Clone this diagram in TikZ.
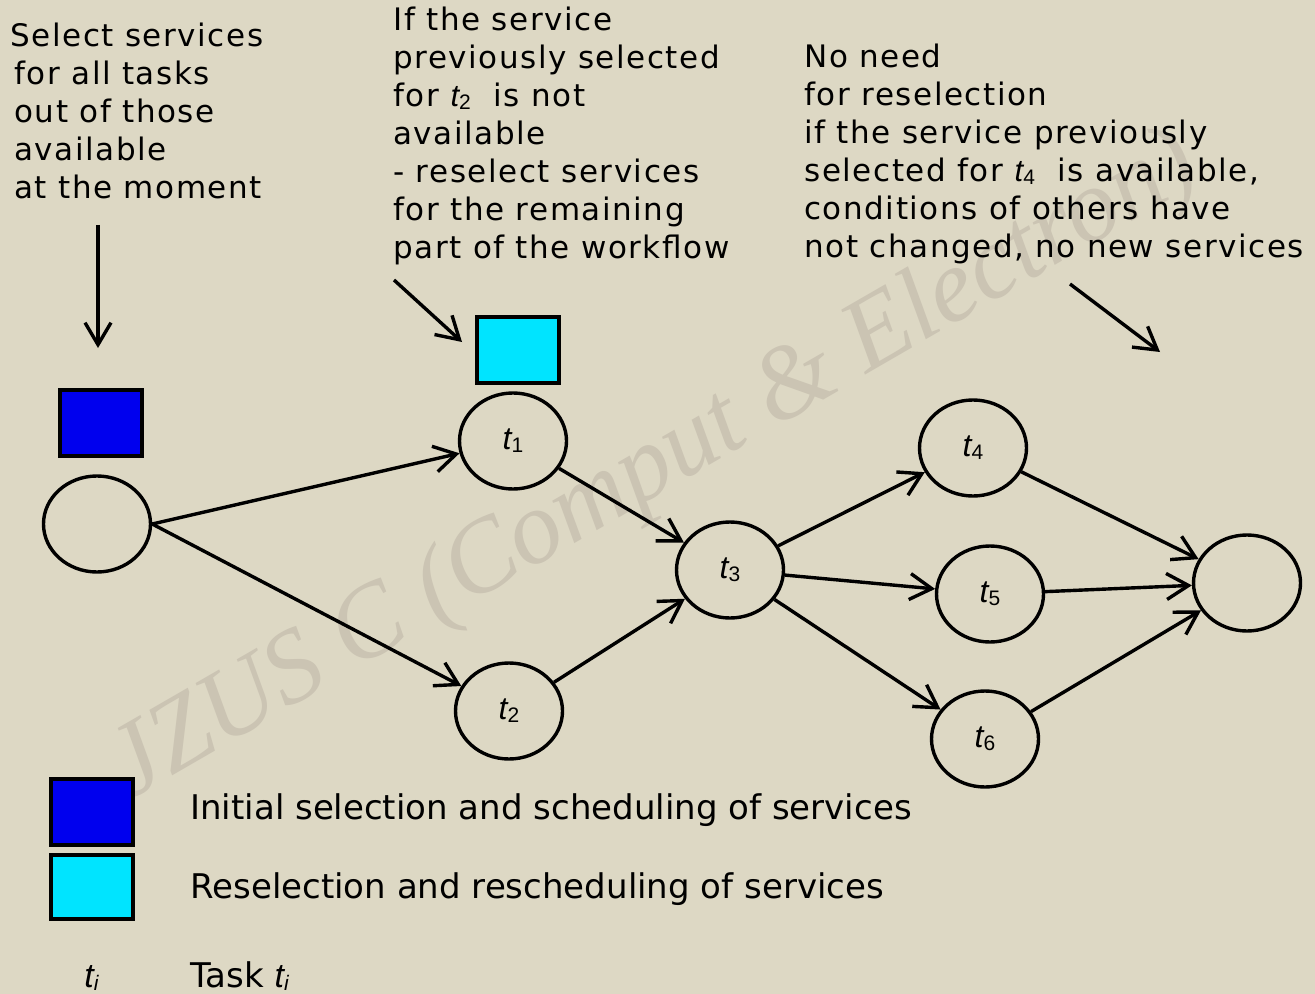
\documentclass[tikz,border=0pt]{standalone}
\usepackage{fontspec}
\setmainfont{DejaVu Sans}
\newfontfamily\notefont[LetterSpace=5]{DejaVu Sans}
\newfontfamily\taskfont{Liberation Sans}
\newfontfamily\markfont{Liberation Serif}
\usepackage{tikz}
\usetikzlibrary{positioning}
\usetikzlibrary{arrows.meta}
\usetikzlibrary{shapes.geometric}
\usepackage{xcolor}
\definecolor{paper}{RGB}{221,216,196}
\definecolor{initblue}{RGB}{0,0,238}
\definecolor{reselcyan}{RGB}{0,228,255}
\definecolor{markgray}{RGB}{203,196,179}
\newcommand{\tk}[1]{{\taskfont\itshape t}\raisebox{-1.5pt}{\taskfont\fontsize{10.5}{12}\selectfont #1}}

\begin{document}
\begin{tikzpicture}[x=0.5pt,y=-0.5pt,
	task/.style={ellipse,draw,line width=1.7pt,minimum width=53.5pt,minimum height=48pt,inner sep=0pt,font=\taskfont\fontsize{16}{18}\selectfont},
	flow/.style={-{Straight Barb[length=11pt,width=13pt]},line width=1.7pt},
	service/.style={draw,line width=1.6pt,minimum width=41pt,minimum height=33pt,inner sep=0pt},
	note/.style={anchor=north west,align=left,inner sep=0pt,font=\notefont\fontsize{15.5}{19}\selectfont},
	legend/.style={anchor=base west,inner sep=0pt,font=\fontsize{17}{20}\selectfont}]
	\fill [paper] (0,0) rectangle (1315,994);
	\useasboundingbox (0,0) rectangle (1315,994);
	% watermark
	\node [markgray,rotate=30,font=\markfont\itshape\fontsize{52}{52}\selectfont] (mark) at (655,468) {JZUS C (Comput \& Electron)};

	% workflow
	\node [task] (start) at (97,524) {};
	\node [task] (t1) at (513,441) {\tk{1}};
	\node [task] (t2) at (509,711) {\tk{2}};
	\node [task] (t3) at (730,570) {\tk{3}};
	\node [task] (t4) at (973,448) {\tk{4}};
	\node [task] (t5) at (990,594) {\tk{5}};
	\node [task] (t6) at (985,739) {\tk{6}};
	\node [task] (end) at (1247,583) {};
	\draw [flow] (start.east) -- (t1);
	\draw [flow] (start.east) -- (t2);
	\draw [flow] (t1) -- (t3);
	\draw [flow] (t2) -- (t3);
	\draw [flow] (t3) -- (t4);
	\draw [flow] (t3) -- (t5);
	\draw [flow] (t3) -- (t6);
	\draw [flow] (t4) -- (end);
	\draw [flow] (t5) -- (end);
	\draw [flow] (t6) -- (end);

	\node [service,fill=initblue] (sel) at (101,423) {};
	\node [service,fill=reselcyan] (resel) at (518,350) {};

	% notes
	\node [note] (selnote) at (10,23) {Select services\\\hspace*{2pt}for all tasks\\\hspace*{2pt}out of those\\\hspace*{2pt}available\\\hspace*{2pt}at the moment};
	\node [note] (reselnote) at (393,7) {If the service\\previously selected\\for \tk{2}\ \ is not\\available\\- reselect services\\for the remaining\\part of the workflow};
	\node [note] (keepnote) at (804,44) {No need\\for reselection\\if the service previously\\selected for \tk{4}\ \ is available,\\conditions of others have\\not changed, no new services};
	\coordinate (selA) at (98,225);
	\coordinate (selB) at (98,348);
	\coordinate (reselA) at (394,280);
	\coordinate (reselB) at (462,342);
	\coordinate (keepA) at (1070,284);
	\coordinate (keepB) at (1160,352);
	\draw [flow] (selA) -- (selB);
	\draw [flow] (reselA) -- (reselB);
	\draw [flow] (keepA) -- (keepB);

	% legend
	\node [service,fill=initblue,minimum height=33pt] (keyinit) at (92,812) {};
	\node [service,fill=reselcyan,minimum height=32pt] (keyresel) at (92,887) {};
	\node [legend] (txtinit) at (190,819) {Initial selection and scheduling of services};
	\node [legend] (txtresel) at (190,898) {Reselection and rescheduling of services};
	\node [legend] (keytask) at (84,987) {\tk{\itshape i}};
	\node [legend] (txttask) at (190,987) {Task \tk{\itshape i}};
\end{tikzpicture}
\end{document}
